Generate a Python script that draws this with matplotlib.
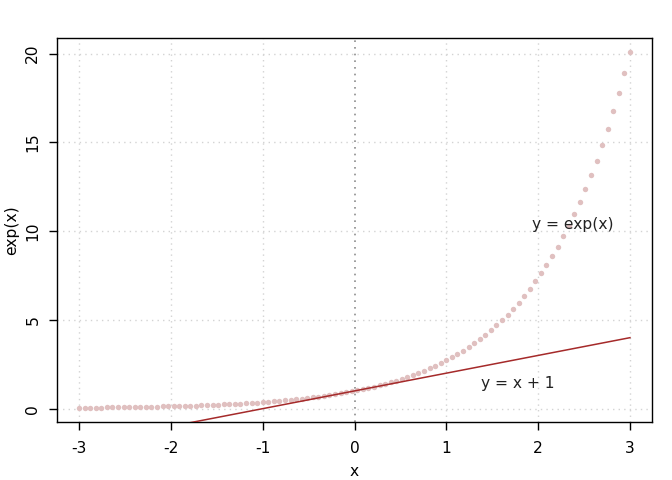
import matplotlib
matplotlib.use("Agg")
import matplotlib.pyplot as plt

x_vals = [-3.000, -2.939, -2.879, -2.818, -2.758, -2.697, -2.636, -2.576, -2.515, -2.455,
          -2.394, -2.333, -2.273, -2.212, -2.152, -2.091, -2.030, -1.970, -1.909, -1.848,
          -1.788, -1.727, -1.667, -1.606, -1.545, -1.485, -1.424, -1.364, -1.303, -1.242,
          -1.182, -1.121, -1.061, -1.000, -0.939, -0.879, -0.818, -0.758, -0.697, -0.636,
          -0.576, -0.515, -0.455, -0.394, -0.333, -0.273, -0.212, -0.152, -0.091, -0.030,
          0.030, 0.091, 0.152, 0.212, 0.273, 0.333, 0.394, 0.455, 0.515, 0.576,
          0.636, 0.697, 0.758, 0.818, 0.879, 0.939, 1.000, 1.061, 1.121, 1.182,
          1.242, 1.303, 1.364, 1.424, 1.485, 1.545, 1.606, 1.667, 1.727, 1.788,
          1.848, 1.909, 1.970, 2.030, 2.091, 2.152, 2.212, 2.273, 2.333, 2.394,
          2.455, 2.515, 2.576, 2.636, 2.697, 2.758, 2.818, 2.879, 2.939, 3.000]
y_vals = [0.0498, 0.0529, 0.0562, 0.0597, 0.0634, 0.0674, 0.0716, 0.0761, 0.0808, 0.0859,
          0.0912, 0.0969, 0.1030, 0.1094, 0.1162, 0.1235, 0.1312, 0.1394, 0.1481, 0.1574,
          0.1673, 0.1777, 0.1889, 0.2007, 0.2132, 0.2265, 0.2407, 0.2557, 0.2717, 0.2887,
          0.3067, 0.3259, 0.3462, 0.3679, 0.3909, 0.4153, 0.4413, 0.4688, 0.4981, 0.5292,
          0.5623, 0.5975, 0.6348, 0.6745, 0.7165, 0.7613, 0.8089, 0.8594, 0.9131, 0.9701,
          1.0308, 1.0952, 1.1636, 1.2363, 1.3135, 1.3956, 1.4828, 1.5754, 1.6738, 1.7784,
          1.8896, 2.0077, 2.1331, 2.2664, 2.4080, 2.5585, 2.7183, 2.8882, 3.0686, 3.2604,
          3.4641, 3.6805, 3.9105, 4.1549, 4.4145, 4.6903, 4.9834, 5.2948, 5.6256, 5.9771,
          6.3506, 6.7472, 7.1688, 7.6167, 8.0926, 8.5982, 9.1354, 9.7062, 10.3127, 10.9570,
          11.6416, 12.3690, 13.1418, 13.9629, 14.8353, 15.7622, 16.7470, 17.7934, 18.9051, 20.0855]

line_x = [-3, 3]
line_y = [-2, 4]

x_ticks = [-3, -2, -1, 0, 1, 2, 3]
y_ticks = [0, 5, 10, 15, 20]

labels = ["y = exp(x)", "y = x + 1"]
label_x = [2.38, 1.78]
label_y = [10.4, 1.4]

plt.rcParams['font.family'] = ['DejaVu Sans']

fig = plt.figure(figsize=(6.72, 4.8), dpi=100)
ax = fig.add_axes([57/672, 58/480, 595/672, 384/480])

xmin, xmax = min(x_vals), max(x_vals)
ymin, ymax = min(y_vals), max(y_vals)
dx = (xmax - xmin) * 0.04
dy = (ymax - ymin) * 0.04
ax.set_xlim(xmin - dx, xmax + dx)
ax.set_ylim(ymin - dy, ymax + dy)

# grid
for t in x_ticks:
    if t == 0:
        continue
    ax.axvline(t, color='#d3d3d3', linestyle=(0, (1, 3)), linewidth=1, zorder=1)
for t in y_ticks:
    ax.axhline(t, color='#d3d3d3', linestyle=(0, (1, 3)), linewidth=1, zorder=1)
ax.axvline(0, color='#8c8c8c', linestyle=(0, (1, 3)), linewidth=1.2, zorder=1)

ax.plot(x_vals, y_vals, 'o', color='#e0c0c0', markersize=3.9, markeredgewidth=0, zorder=3)
ax.plot(line_x, line_y, color='#a52a2a', linewidth=1.1, zorder=4)

for s, tx, ty in zip(labels, label_x, label_y):
    ax.text(tx, ty, s, ha='center', va='center', fontsize=11.2, color='#222222', zorder=5)

ax.set_xticks(x_ticks)
ax.set_xticklabels([str(t) for t in x_ticks])
ax.set_yticks(y_ticks)
ax.set_yticklabels([str(t) for t in y_ticks], rotation=90, va='center')
ax.tick_params(axis='both', direction='out', length=6, width=1, labelsize=11.2, colors='black')
ax.tick_params(axis='x', pad=8)
ax.tick_params(axis='y', pad=6)

for sp in ax.spines.values():
    sp.set_linewidth(1)
    sp.set_color('black')

ax.set_xlabel('x', fontsize=11.2)
ax.set_ylabel('exp(x)', fontsize=11.2)
ax.xaxis.set_label_coords(0.5, -49/384)
ax.yaxis.set_label_coords(-45/595, 0.5)
ax.xaxis.label.set_va('center')
ax.yaxis.label.set_va('center')

fig.savefig('out.png', dpi=100)
